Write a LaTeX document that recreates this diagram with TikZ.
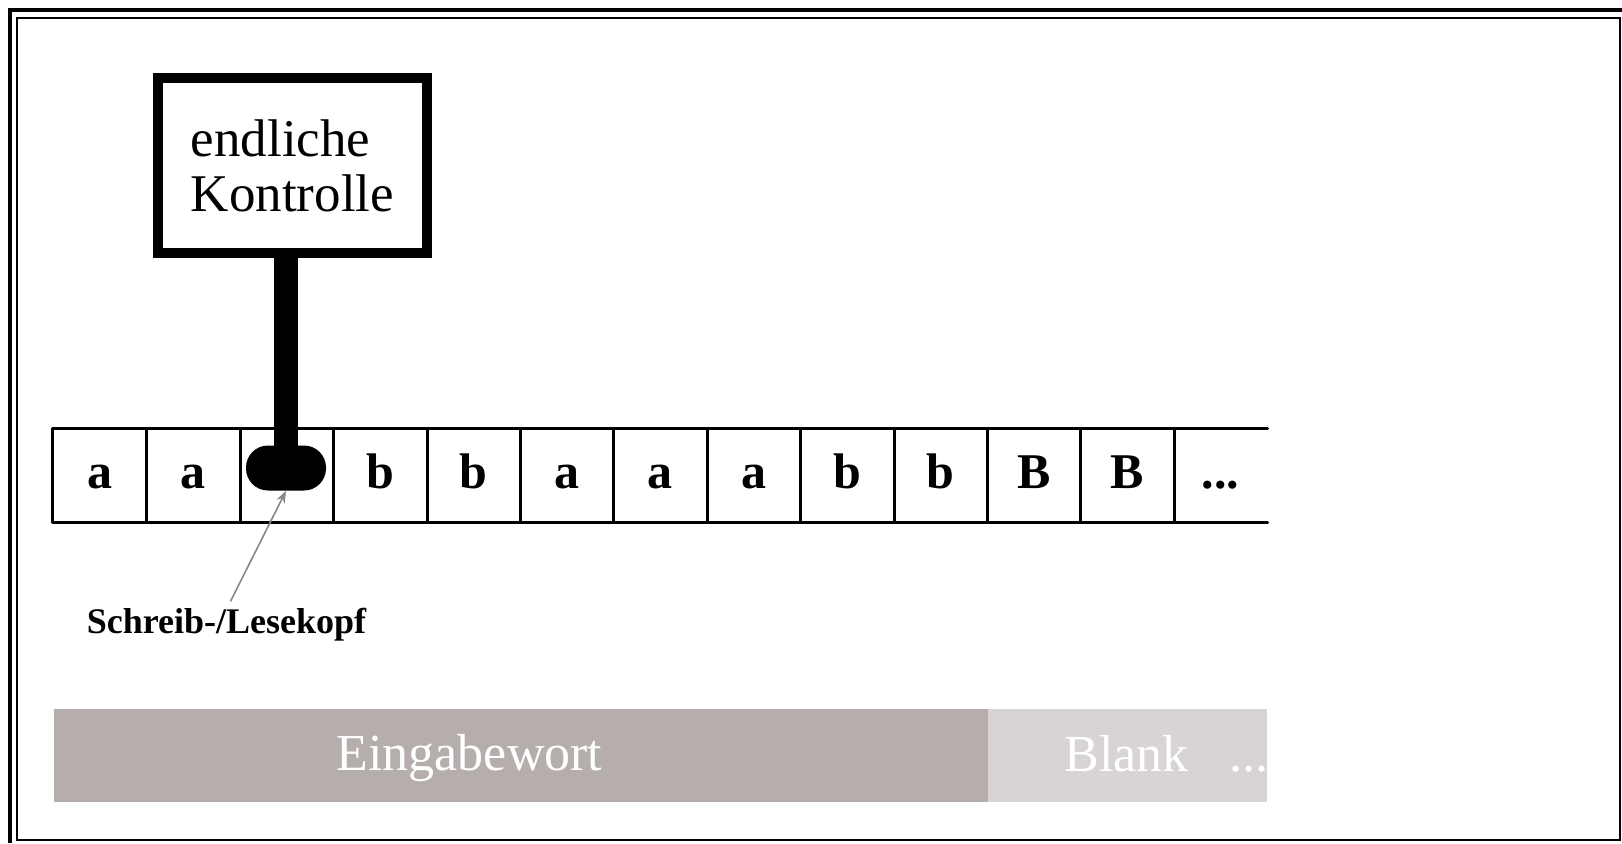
\documentclass[tikz,border=0pt]{standalone}
\usepackage{fontspec}
\setmainfont{Liberation Serif}
\usetikzlibrary{arrows.meta,calc}
\definecolor{bardark}{RGB}{181,174,172}
\definecolor{barlight}{RGB}{216,212,212}
\definecolor{pointergray}{RGB}{135,135,135}
\begin{document}
\begin{tikzpicture}[x=0.5pt,y=-0.5pt,
  ctrl/.style={draw, line width=5pt, minimum width=134.5pt, minimum height=87.5pt,
    inner sep=0pt, align=left, font=\fontsize{26.5}{27.5}\selectfont},
  cell/.style={minimum width=46.7pt, minimum height=46.5pt, inner sep=0pt,
    text height=13pt, text depth=0pt, font=\fontsize{25}{25}\selectfont\bfseries},
  tapeline/.style={line width=1.5pt, line cap=round, line join=round},
  headstyle/.style={fill=black, rounded corners=11pt, minimum width=40pt,
    minimum height=22.5pt, inner sep=0pt},
  stem/.style={line width=12pt},
  lbl/.style={inner sep=3pt, font=\fontsize{18}{18}\selectfont\bfseries},
  pointer/.style={draw=pointergray, line width=0.8pt, -{Stealth[length=6pt,width=4.5pt]}},
  darkbar/.style={fill=bardark, inner sep=0pt, minimum width=467pt, minimum height=46.75pt},
  lightbar/.style={fill=barlight, inner sep=0pt, minimum width=139.5pt, minimum height=46.75pt},
  bartext/.style={inner sep=0pt, text=white, font=\fontsize{26}{26}\selectfont}]
\useasboundingbox (0,0) rectangle (1622,843);
\fill[white] (0,0) rectangle (1622,843);
% frame
\draw[line width=2pt] (9.5,843) -- (9.5,10) -- (1622,10);
\draw[line width=1pt] (16.5,17.5) rectangle (1619.5,840);
% control box
\node[ctrl] (ctrl) at (292.5,165.5) {endliche\\Kontrolle};
% tape cells
\foreach \l [count=\i] in {a,a,{},b,b,a,a,a,b,b,B,B}
  \node[cell] (c\i) at ({53+93.4*(\i-0.5)},475.5) {\l};
\node[cell] (c13) at ({53+93.4*12.5},475.5) {...};
\draw[tapeline] (c13.north east) -- (c1.north west) -- (c1.south west) -- (c13.south east);
\foreach \i in {1,...,12}
  \draw[tapeline] (c\i.north east) -- (c\i.south east);
% head
\node[headstyle] (head) at (286,468) {};
\draw[stem] (head.center) -- (head.center |- ctrl.south);
% label
\node[lbl, anchor=base] (lbl) at (226.5,633) {Schreib-/Lesekopf};
\draw[pointer] ([xshift=2pt]lbl.north) -- (head.south);
% bars
\node[darkbar] (inbar) at (521,755.25) {};
\node[lightbar] (blankbar) at (1127.5,755.25) {};
\node[bartext, anchor=base] (eing) at (469.5,770) {Eingabewort};
\node[bartext, anchor=base] (blank) at (1126.5,771) {Blank};
\begin{scope}
  \clip (blankbar.north west) rectangle (blankbar.south east);
  \node[bartext, anchor=base west] (bdots) at (1229,771) {...};
\end{scope}
\end{tikzpicture}
\end{document}
